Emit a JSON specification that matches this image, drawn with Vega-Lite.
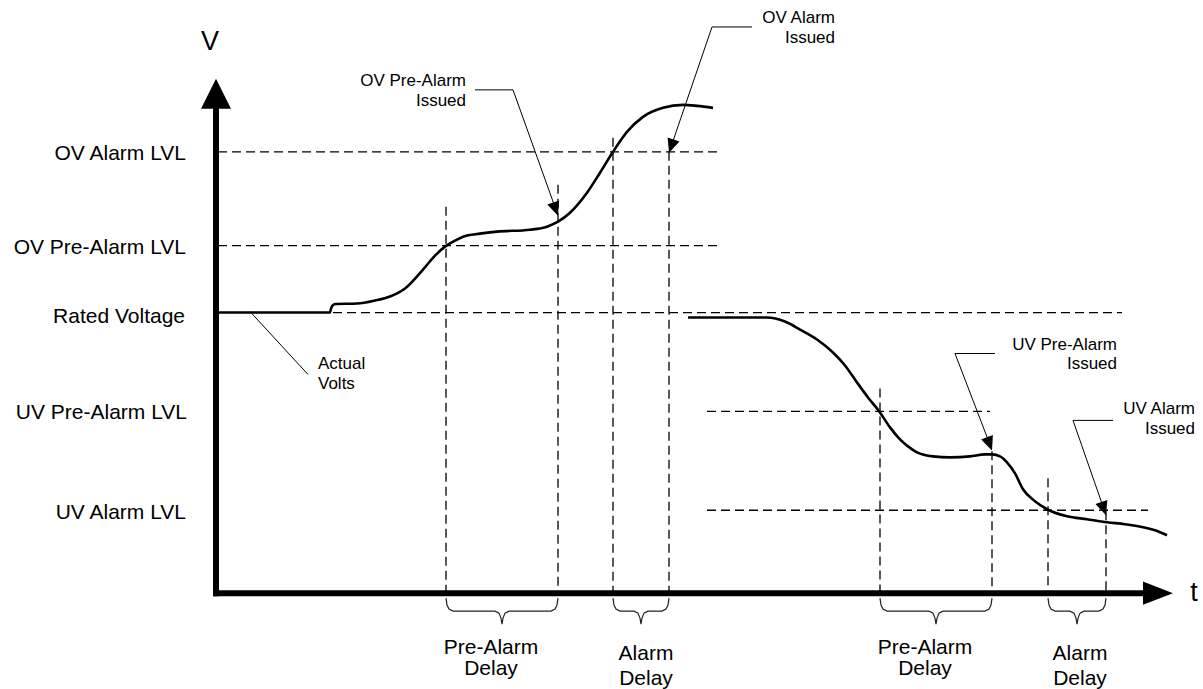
{
  "$schema": "https://vega.github.io/schema/vega-lite/v6.json",
  "width": 1203,
  "height": 689,
  "autosize": {"type": "fit", "contains": "padding"},
  "padding": 0,
  "background": "white",
  "config": {"view": {"stroke": null}, "text": {"font": "Liberation Sans", "color": "black"}},
  "datasets": {
    "dashed": [
      {"x": 218, "x2": 720, "y": 152, "y2": 152},
      {"x": 218, "x2": 720, "y": 246, "y2": 246},
      {"x": 333, "x2": 1122, "y": 313, "y2": 313},
      {"x": 707, "x2": 990, "y": 412, "y2": 412},
      {"x": 707, "x2": 1148, "y": 511, "y2": 511},
      {"x": 446, "x2": 446, "y": 207, "y2": 596},
      {"x": 558, "x2": 558, "y": 185, "y2": 596},
      {"x": 613, "x2": 613, "y": 138, "y2": 596},
      {"x": 669, "x2": 669, "y": 152, "y2": 596},
      {"x": 880, "x2": 880, "y": 389, "y2": 596},
      {"x": 992, "x2": 992, "y": 452, "y2": 596},
      {"x": 1048, "x2": 1048, "y": 479, "y2": 596},
      {"x": 1106, "x2": 1106, "y": 512, "y2": 596}
    ],
    "axes": [
      {"x": 216, "x2": 216, "y": 597, "y2": 106},
      {"x": 213, "x2": 1146, "y": 594, "y2": 594}
    ],
    "leaders": [
      {"x": 475, "x2": 513, "y": 90, "y2": 90},
      {"x": 513, "x2": 557, "y": 90, "y2": 213},
      {"x": 712, "x2": 752, "y": 27, "y2": 27},
      {"x": 712, "x2": 670, "y": 27, "y2": 150},
      {"x": 955, "x2": 995, "y": 354, "y2": 354},
      {"x": 955, "x2": 991, "y": 354, "y2": 448},
      {"x": 1073, "x2": 1113, "y": 421, "y2": 421},
      {"x": 1073, "x2": 1105, "y": 421, "y2": 513},
      {"x": 250, "x2": 308, "y": 312, "y2": 375}
    ],
    "curves": [
      {"s": "ov", "x": 218, "y": 313}, {"s": "ov", "x": 330, "y": 313}, {"s": "ov", "x": 331, "y": 309},
      {"s": "ov", "x": 333, "y": 305.5}, {"s": "ov", "x": 336, "y": 304.5}, {"s": "ov", "x": 357, "y": 304},
      {"s": "ov", "x": 375, "y": 301}, {"s": "ov", "x": 390, "y": 297}, {"s": "ov", "x": 405, "y": 289},
      {"s": "ov", "x": 423, "y": 270}, {"s": "ov", "x": 435, "y": 256}, {"s": "ov", "x": 445, "y": 247},
      {"s": "ov", "x": 455, "y": 241}, {"s": "ov", "x": 463, "y": 237}, {"s": "ov", "x": 480, "y": 234},
      {"s": "ov", "x": 497, "y": 232}, {"s": "ov", "x": 530, "y": 230}, {"s": "ov", "x": 547, "y": 227},
      {"s": "ov", "x": 558, "y": 222}, {"s": "ov", "x": 570, "y": 213}, {"s": "ov", "x": 587, "y": 193},
      {"s": "ov", "x": 600, "y": 173}, {"s": "ov", "x": 613, "y": 152}, {"s": "ov", "x": 627, "y": 132},
      {"s": "ov", "x": 643, "y": 117}, {"s": "ov", "x": 663, "y": 108}, {"s": "ov", "x": 683, "y": 105},
      {"s": "ov", "x": 697, "y": 106}, {"s": "ov", "x": 713, "y": 108},
      {"s": "uv", "x": 688, "y": 318}, {"s": "uv", "x": 767, "y": 318}, {"s": "uv", "x": 785, "y": 322},
      {"s": "uv", "x": 800, "y": 330}, {"s": "uv", "x": 817, "y": 340}, {"s": "uv", "x": 833, "y": 353},
      {"s": "uv", "x": 845, "y": 366}, {"s": "uv", "x": 857, "y": 383}, {"s": "uv", "x": 868, "y": 398},
      {"s": "uv", "x": 880, "y": 413}, {"s": "uv", "x": 890, "y": 428}, {"s": "uv", "x": 900, "y": 440},
      {"s": "uv", "x": 908, "y": 447}, {"s": "uv", "x": 917, "y": 453}, {"s": "uv", "x": 933, "y": 457},
      {"s": "uv", "x": 950, "y": 458}, {"s": "uv", "x": 970, "y": 457}, {"s": "uv", "x": 985, "y": 455},
      {"s": "uv", "x": 992, "y": 455}, {"s": "uv", "x": 1000, "y": 457}, {"s": "uv", "x": 1007, "y": 463},
      {"s": "uv", "x": 1015, "y": 474}, {"s": "uv", "x": 1023, "y": 490}, {"s": "uv", "x": 1035, "y": 502},
      {"s": "uv", "x": 1047, "y": 510}, {"s": "uv", "x": 1067, "y": 517}, {"s": "uv", "x": 1087, "y": 520},
      {"s": "uv", "x": 1107, "y": 523}, {"s": "uv", "x": 1125, "y": 525}, {"s": "uv", "x": 1143, "y": 528},
      {"s": "uv", "x": 1155, "y": 531}, {"s": "uv", "x": 1167, "y": 536}
    ],
    "braces": [
      {"b": 1, "i": 1, "x": 446, "y": 599}, {"b": 1, "i": 2, "x": 447, "y": 606}, {"b": 1, "i": 3, "x": 449, "y": 610},
      {"b": 1, "i": 4, "x": 453, "y": 612}, {"b": 1, "i": 5, "x": 495, "y": 612}, {"b": 1, "i": 6, "x": 499, "y": 614},
      {"b": 1, "i": 7, "x": 501, "y": 619}, {"b": 1, "i": 8, "x": 502, "y": 625}, {"b": 1, "i": 9, "x": 503, "y": 619},
      {"b": 1, "i": 10, "x": 505, "y": 614}, {"b": 1, "i": 11, "x": 509, "y": 612}, {"b": 1, "i": 12, "x": 551, "y": 612},
      {"b": 1, "i": 13, "x": 555, "y": 610}, {"b": 1, "i": 14, "x": 557, "y": 606}, {"b": 1, "i": 15, "x": 558, "y": 599},
      {"b": 2, "i": 1, "x": 613, "y": 599}, {"b": 2, "i": 2, "x": 614, "y": 606}, {"b": 2, "i": 3, "x": 616, "y": 610},
      {"b": 2, "i": 4, "x": 620, "y": 612}, {"b": 2, "i": 5, "x": 634, "y": 612}, {"b": 2, "i": 6, "x": 638, "y": 614},
      {"b": 2, "i": 7, "x": 640, "y": 619}, {"b": 2, "i": 8, "x": 641, "y": 625}, {"b": 2, "i": 9, "x": 642, "y": 619},
      {"b": 2, "i": 10, "x": 644, "y": 614}, {"b": 2, "i": 11, "x": 648, "y": 612}, {"b": 2, "i": 12, "x": 662, "y": 612},
      {"b": 2, "i": 13, "x": 666, "y": 610}, {"b": 2, "i": 14, "x": 668, "y": 606}, {"b": 2, "i": 15, "x": 669, "y": 599},
      {"b": 3, "i": 1, "x": 880, "y": 599}, {"b": 3, "i": 2, "x": 881, "y": 606}, {"b": 3, "i": 3, "x": 883, "y": 610},
      {"b": 3, "i": 4, "x": 887, "y": 612}, {"b": 3, "i": 5, "x": 929, "y": 612}, {"b": 3, "i": 6, "x": 933, "y": 614},
      {"b": 3, "i": 7, "x": 935, "y": 619}, {"b": 3, "i": 8, "x": 936, "y": 625}, {"b": 3, "i": 9, "x": 937, "y": 619},
      {"b": 3, "i": 10, "x": 939, "y": 614}, {"b": 3, "i": 11, "x": 943, "y": 612}, {"b": 3, "i": 12, "x": 985, "y": 612},
      {"b": 3, "i": 13, "x": 989, "y": 610}, {"b": 3, "i": 14, "x": 991, "y": 606}, {"b": 3, "i": 15, "x": 992, "y": 599},
      {"b": 4, "i": 1, "x": 1048, "y": 599}, {"b": 4, "i": 2, "x": 1049, "y": 606}, {"b": 4, "i": 3, "x": 1051, "y": 610},
      {"b": 4, "i": 4, "x": 1055, "y": 612}, {"b": 4, "i": 5, "x": 1070, "y": 612}, {"b": 4, "i": 6, "x": 1074, "y": 614},
      {"b": 4, "i": 7, "x": 1076, "y": 619}, {"b": 4, "i": 8, "x": 1077, "y": 625}, {"b": 4, "i": 9, "x": 1078, "y": 619},
      {"b": 4, "i": 10, "x": 1080, "y": 614}, {"b": 4, "i": 11, "x": 1084, "y": 612}, {"b": 4, "i": 12, "x": 1099, "y": 612},
      {"b": 4, "i": 13, "x": 1103, "y": 610}, {"b": 4, "i": 14, "x": 1105, "y": 606}, {"b": 4, "i": 15, "x": 1106, "y": 599}
    ],
    "bigheads": [
      {"x": 216, "y": 94, "dir": "up"},
      {"x": 1158, "y": 594, "dir": "right"}
    ],
    "smallheads": [
      {"x": 555.6, "y": 209.4, "ang": 160.4},
      {"x": 671.3, "y": 146.4, "ang": 198.8},
      {"x": 989.5, "y": 444.5, "ang": 159.1},
      {"x": 1103.7, "y": 509.4, "ang": 160.8}
    ],
    "levels": [
      {"label": "OV Alarm LVL", "x": 186, "y": 154},
      {"label": "OV Pre-Alarm LVL", "x": 186, "y": 248},
      {"label": "Rated Voltage", "x": 185, "y": 317},
      {"label": "UV Pre-Alarm LVL", "x": 187, "y": 414},
      {"label": "UV Alarm LVL", "x": 186, "y": 514}
    ],
    "callouts": [
      {"label": "OV Pre-Alarm", "x": 466, "y": 81},
      {"label": "Issued", "x": 466, "y": 101},
      {"label": "OV Alarm", "x": 835, "y": 18},
      {"label": "Issued", "x": 835, "y": 38},
      {"label": "UV Pre-Alarm", "x": 1117, "y": 346},
      {"label": "Issued", "x": 1117, "y": 365},
      {"label": "UV Alarm", "x": 1195, "y": 410},
      {"label": "Issued", "x": 1195, "y": 430}
    ],
    "actual": [
      {"label": "Actual", "x": 318, "y": 365},
      {"label": "Volts", "x": 318, "y": 385}
    ],
    "delays": [
      {"label": "Pre-Alarm", "x": 491, "y": 649},
      {"label": "Delay", "x": 491, "y": 670},
      {"label": "Alarm", "x": 646, "y": 655},
      {"label": "Delay", "x": 646, "y": 680},
      {"label": "Pre-Alarm", "x": 925, "y": 649},
      {"label": "Delay", "x": 925, "y": 670},
      {"label": "Alarm", "x": 1080, "y": 655},
      {"label": "Delay", "x": 1080, "y": 680}
    ],
    "axisletters": [
      {"label": "V", "x": 210, "y": 42},
      {"label": "t", "x": 1194, "y": 594}
    ]
  },
  "encoding": {
    "x": {"field": "x", "type": "quantitative", "scale": {"domain": [0, 1203], "nice": false, "zero": false}, "axis": null},
    "y": {"field": "y", "type": "quantitative", "scale": {"domain": [0, 689], "reverse": true, "nice": false, "zero": false}, "axis": null}
  },
  "layer": [
    {
      "data": {"name": "dashed"},
      "mark": {"type": "rule", "color": "black", "strokeWidth": 1.3, "strokeDash": [9, 5]},
      "encoding": {"x2": {"field": "x2"}, "y2": {"field": "y2"}}
    },
    {
      "data": {"name": "leaders"},
      "mark": {"type": "rule", "color": "black", "strokeWidth": 1},
      "encoding": {"x2": {"field": "x2"}, "y2": {"field": "y2"}}
    },
    {
      "data": {"name": "braces"},
      "mark": {"type": "line", "color": "#222", "strokeWidth": 1.2, "interpolate": "linear"},
      "encoding": {"detail": {"field": "b"}, "order": {"field": "i", "type": "quantitative"}}
    },
    {
      "data": {"name": "curves"},
      "mark": {"type": "line", "color": "black", "strokeWidth": 2.6, "interpolate": "monotone"},
      "encoding": {"detail": {"field": "s"}}
    },
    {
      "data": {"name": "axes"},
      "mark": {"type": "rule", "color": "black", "strokeWidth": 6, "strokeCap": "butt"},
      "encoding": {"x2": {"field": "x2"}, "y2": {"field": "y2"}}
    },
    {
      "data": {"name": "bigheads"},
      "transform": [{"filter": "datum.dir === 'up'"}],
      "mark": {"type": "point", "shape": "M0,-1L1,1L-1,1Z", "size": 900, "filled": true, "color": "black", "opacity": 1, "strokeWidth": 0}
    },
    {
      "data": {"name": "bigheads"},
      "transform": [{"filter": "datum.dir === 'right'"}],
      "mark": {"type": "point", "shape": "M1,0L-1,-0.78L-1,0.78Z", "size": 900, "filled": true, "color": "black", "opacity": 1, "strokeWidth": 0}
    },
    {
      "data": {"name": "smallheads"},
      "mark": {"type": "point", "shape": "M0,-1L0.9,1L-0.9,1Z", "size": 196, "filled": true, "color": "black", "opacity": 1, "strokeWidth": 0},
      "encoding": {"angle": {"field": "ang", "type": "quantitative", "scale": null}}
    },
    {
      "data": {"name": "levels"},
      "mark": {"type": "text", "align": "right", "baseline": "middle", "fontSize": 21},
      "encoding": {"text": {"field": "label"}}
    },
    {
      "data": {"name": "callouts"},
      "mark": {"type": "text", "align": "right", "baseline": "middle", "fontSize": 17},
      "encoding": {"text": {"field": "label"}}
    },
    {
      "data": {"name": "actual"},
      "mark": {"type": "text", "align": "left", "baseline": "middle", "fontSize": 17},
      "encoding": {"text": {"field": "label"}}
    },
    {
      "data": {"name": "delays"},
      "mark": {"type": "text", "align": "center", "baseline": "middle", "fontSize": 21},
      "encoding": {"text": {"field": "label"}}
    },
    {
      "data": {"name": "axisletters"},
      "mark": {"type": "text", "align": "center", "baseline": "middle", "fontSize": 27},
      "encoding": {"text": {"field": "label"}}
    }
  ]
}
